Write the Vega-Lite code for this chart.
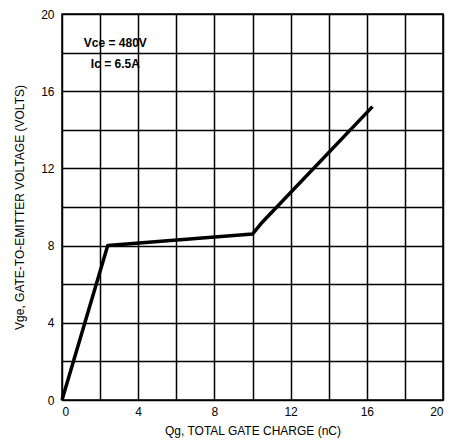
{
  "$schema": "https://vega.github.io/schema/vega-lite/v6.json",
  "autosize": {"type": "none"},
  "padding": {"left": 62, "top": 14, "right": 9, "bottom": 47},
  "width": 381,
  "height": 386,
  "background": "white",
  "config": {
    "view": {"stroke": "black", "strokeWidth": 1.5},
    "font": "Liberation Sans"
  },
  "datasets": {
    "curve": [
      {"qg": 0, "vge": 0},
      {"qg": 2.4, "vge": 8.0},
      {"qg": 10.0, "vge": 8.6},
      {"qg": 10.5, "vge": 9.2},
      {"qg": 16.3, "vge": 15.2}
    ],
    "notes": [
      {"qg": 2.8, "vge": 18.5, "label": "Vce = 480V"},
      {"qg": 2.8, "vge": 17.4, "label": "Ic = 6.5A"}
    ]
  },
  "layer": [
    {
      "data": {"name": "curve"},
      "mark": {"type": "line", "color": "black", "strokeWidth": 3.5, "strokeJoin": "round"},
      "encoding": {
        "x": {
          "field": "qg", "type": "quantitative",
          "scale": {"domain": [0, 20], "nice": false},
          "axis": {
            "tickCount": 10,
            "labelOpacity": {"condition": {"test": "datum.value % 4 !== 0", "value": 0}, "value": 1},
            "labelOverlap": false,
            "title": "Qg, TOTAL GATE CHARGE (nC)",
            "grid": true, "gridColor": "black", "gridWidth": 1.5, "gridOpacity": 1,
            "domain": false, "ticks": false,
            "labelFontSize": 12, "labelColor": "black", "labelPadding": 6,
            "titleFontSize": 12, "titleFontWeight": "normal", "titleColor": "black", "titlePadding": 8
          }
        },
        "y": {
          "field": "vge", "type": "quantitative",
          "scale": {"domain": [0, 20], "nice": false},
          "axis": {
            "tickCount": 10,
            "labelOpacity": {"condition": {"test": "datum.value % 4 !== 0", "value": 0}, "value": 1},
            "labelOverlap": false,
            "title": "Vge, GATE-TO-EMITTER VOLTAGE (VOLTS)",
            "grid": true, "gridColor": "black", "gridWidth": 1.5, "gridOpacity": 1,
            "domain": false, "ticks": false,
            "labelFontSize": 12, "labelColor": "black", "labelPadding": 8,
            "titleFontSize": 12, "titleFontWeight": "normal", "titleColor": "black", "titlePadding": 14
          }
        }
      }
    },
    {
      "data": {"name": "notes"},
      "mark": {"type": "text", "fontSize": 12, "fontWeight": "bold", "color": "black", "align": "center", "baseline": "middle"},
      "encoding": {
        "x": {"field": "qg", "type": "quantitative"},
        "y": {"field": "vge", "type": "quantitative"},
        "text": {"field": "label"}
      }
    }
  ]
}
